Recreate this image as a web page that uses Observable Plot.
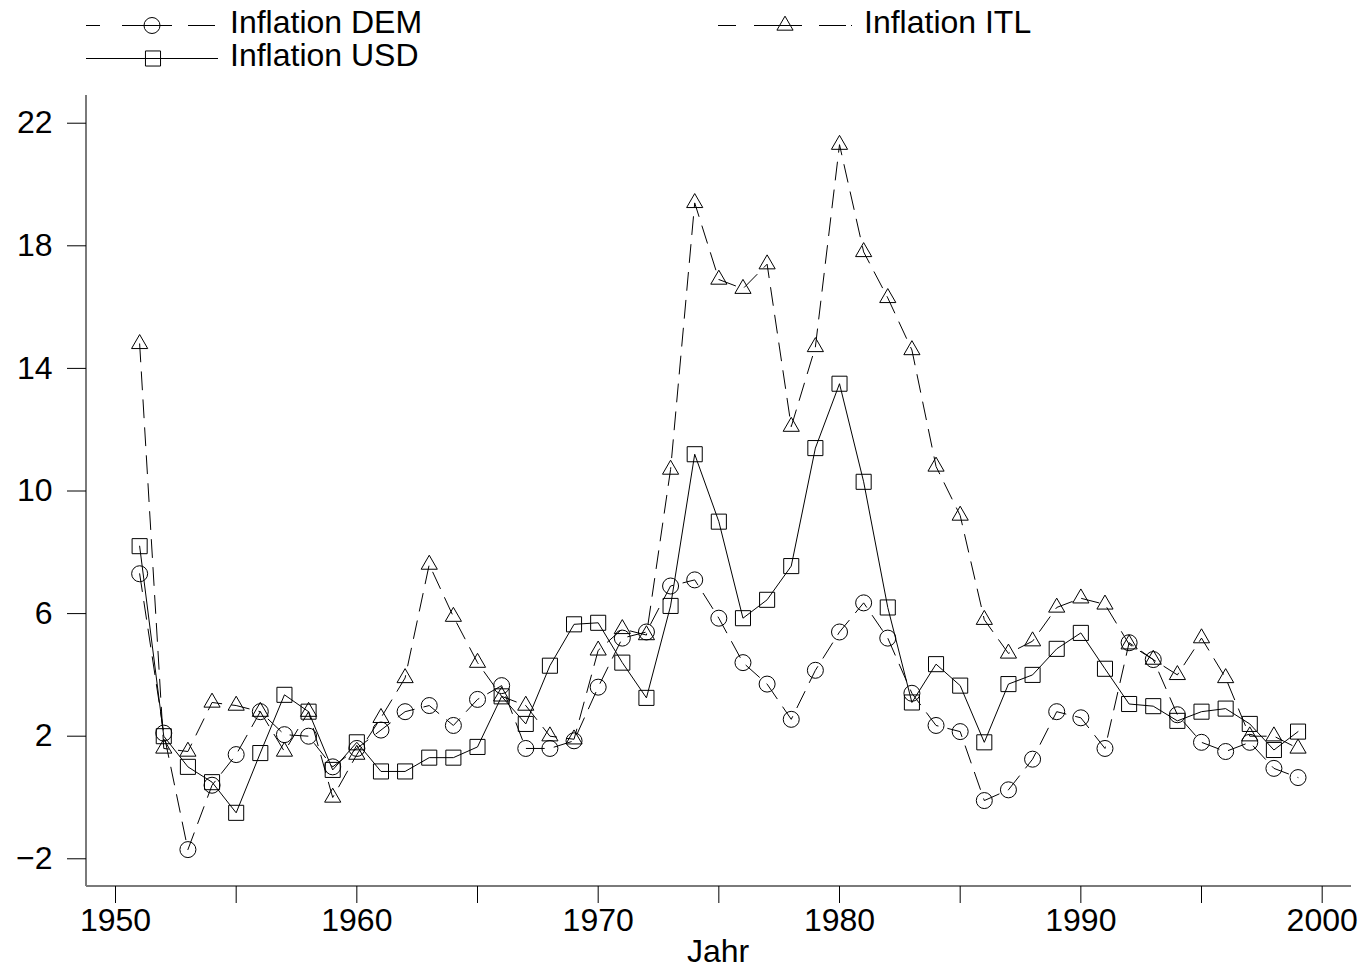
<!DOCTYPE html>
<html>
<head>
<meta charset="utf-8">
<script src="https://cdn.jsdelivr.net/npm/d3@7"></script>
<script src="https://cdn.jsdelivr.net/npm/@observablehq/plot@0.6"></script>
<style>
  body { margin: 0; background: #fff; }
  #wrap { position: relative; width: 1359px; height: 970px; font-family: "Liberation Sans", Arial, Helvetica, sans-serif; }
  #wrap > svg { position: absolute; left: 0; top: 0; }
  #overlay { position: absolute; left: 0; top: 0; pointer-events: none; }
</style>
</head>
<body>
<div id="wrap"></div>
<script>
// ---- data ----
const years = [1951,1952,1953,1954,1955,1956,1957,1958,1959,1960,
               1961,1962,1963,1964,1965,1966,1967,1968,1969,1970,
               1971,1972,1973,1974,1975,1976,1977,1978,1979,1980,
               1981,1982,1983,1984,1985,1986,1987,1988,1989,1990,
               1991,1992,1993,1994,1995,1996,1997,1998,1999];
const inflationDEM = [7.3,2.1,-1.7,0.4,1.4,2.8,2.05,2.0,1.0,1.6,
                      2.2,2.8,3.0,2.35,3.2,3.65,1.6,1.6,1.85,3.6,
                      5.2,5.4,6.9,7.1,5.85,4.4,3.7,2.55,4.15,5.4,
                      6.35,5.2,3.4,2.35,2.15,-0.1,0.25,1.25,2.8,2.6,
                      1.6,5.05,4.5,2.7,1.8,1.5,1.8,0.95,0.65];
const inflationUSD = [8.2,2.0,1.0,0.5,-0.5,1.45,3.35,2.8,0.9,1.8,
                      0.85,0.85,1.3,1.3,1.65,3.3,2.4,4.3,5.65,5.7,
                      4.4,3.25,6.25,11.2,9.0,5.85,6.45,7.55,11.4,13.5,
                      10.3,6.2,3.1,4.35,3.65,1.8,3.7,4.0,4.85,5.37,
                      4.2,3.05,2.98,2.5,2.8,2.9,2.4,1.55,2.15];
const inflationITL = [14.8,1.6,1.5,3.1,3.0,2.8,1.5,2.8,0.0,1.4,
                      2.6,3.9,7.6,5.9,4.4,3.3,3.0,2.0,1.9,4.8,
                      5.5,5.3,10.7,19.4,16.9,16.6,17.4,12.1,14.7,21.3,
                      17.8,16.3,14.6,10.8,9.2,5.8,4.7,5.1,6.2,6.5,
                      6.3,5.0,4.5,4.0,5.2,3.9,2.0,2.0,1.6];
const yTicks = [-2, 2, 6, 10, 14, 18, 22];
const xTicks = [1950,1955,1960,1965,1970,1975,1980,1985,1990,1995,2000];
const xTickLabels = [1950,1960,1970,1980,1990,2000];
const seriesLabels = ["Inflation DEM", "Inflation ITL", "Inflation USD"];
const xTitle = "Jahr";

// ---- build tables ----
const toRows = vals => years.map((yr, i) => ({year: yr, value: vals[i]}));
const demRows = toRows(inflationDEM);
const usdRows = toRows(inflationUSD);
const itlRows = toRows(inflationITL);

const FONT = '"Liberation Sans", Arial, Helvetica, sans-serif';
const xDomain = [1948.798, 2001.215];
const yDomain = [-2.904, 22.904];
const DASH = "18,10";

const chart = Plot.plot({
  width: 1359,
  height: 970,
  marginLeft: 86,
  marginRight: 8,
  marginTop: 95,
  marginBottom: 84,
  style: {fontFamily: FONT, fontSize: "32px", color: "#000", background: "#fff"},
  x: {domain: xDomain},
  y: {domain: yDomain},
  marks: [
    Plot.ruleX([xDomain[0]], {stroke: "#7a7a7a", strokeWidth: 2, dx: -0.5}),
    Plot.ruleY([yDomain[0]], {stroke: "#7a7a7a", strokeWidth: 2, dy: -0.5}),
    Plot.axisY({ticks: yTicks, tickSize: 19, tickPadding: 15, label: null,
                tickFormat: d => d < 0 ? "\u2212" + (-d) : String(d),
                fontSize: 32, stroke: "#000"}),
    Plot.axisX({ticks: xTicks, tickSize: 17, tickPadding: 5, label: null,
                tickFormat: d => xTickLabels.includes(d) ? String(d) : "",
                fontSize: 32, stroke: "#000"}),
    Plot.line(itlRows, {x: "year", y: "value", stroke: "#000", strokeWidth: 1, strokeDasharray: DASH}),
    Plot.line(demRows, {x: "year", y: "value", stroke: "#000", strokeWidth: 1, strokeDasharray: DASH}),
    Plot.line(usdRows, {x: "year", y: "value", stroke: "#000", strokeWidth: 1}),
    Plot.dot(itlRows, {x: "year", y: "value", symbol: "triangle", r: 6, stroke: "#000", fill: "none", strokeWidth: 1}),
    Plot.dot(demRows, {x: "year", y: "value", symbol: "circle", r: 8, stroke: "#000", fill: "none", strokeWidth: 1}),
    Plot.dot(usdRows, {x: "year", y: "value", symbol: "square", r: 8.5, stroke: "#000", fill: "none", strokeWidth: 1})
  ]
});
const wrap = document.getElementById("wrap");
wrap.appendChild(chart);

// ---- legend and axis title (overlay) ----
const ov = d3.select(wrap).append("svg")
  .attr("id", "overlay").attr("width", 1359).attr("height", 970)
  .style("font-family", FONT).style("font-size", "32px");

const legendItems = [
  {label: seriesLabels[0], x0: 86, x1: 218, y: 25, sx: 152, sym: d3.symbolCircle, size: Math.PI * 64, dash: "14,22,50,16,27,3,1,200"},
  {label: seriesLabels[2], x0: 86, x1: 218, y: 58, sx: 153, sym: d3.symbolSquare, size: Math.PI * 8.5 * 8.5, dash: null},
  {label: seriesLabels[1], x0: 718, x1: 852, y: 25, sx: 785, sym: d3.symbolTriangle, size: Math.PI * 36, dash: "18,18,48,17,27,5,1,200"}
];
for (const it of legendItems) {
  const ln = ov.append("line").attr("x1", it.x0).attr("x2", it.x1)
    .attr("y1", it.y + 0.5).attr("y2", it.y + 0.5)
    .attr("stroke", "#000").attr("stroke-width", 1);
  if (it.dash) ln.attr("stroke-dasharray", it.dash);
  ov.append("path").attr("d", d3.symbol(it.sym, it.size)())
    .attr("transform", `translate(${it.sx},${it.y + 0.5})`)
    .attr("fill", "none").attr("stroke", "#000").attr("stroke-width", 1);
  ov.append("text").attr("x", it.x1 + 12).attr("y", it.y + 8).text(it.label);
}
ov.append("text").attr("x", 718).attr("y", 962).attr("text-anchor", "middle").text(xTitle);
</script>
</body>
</html>
